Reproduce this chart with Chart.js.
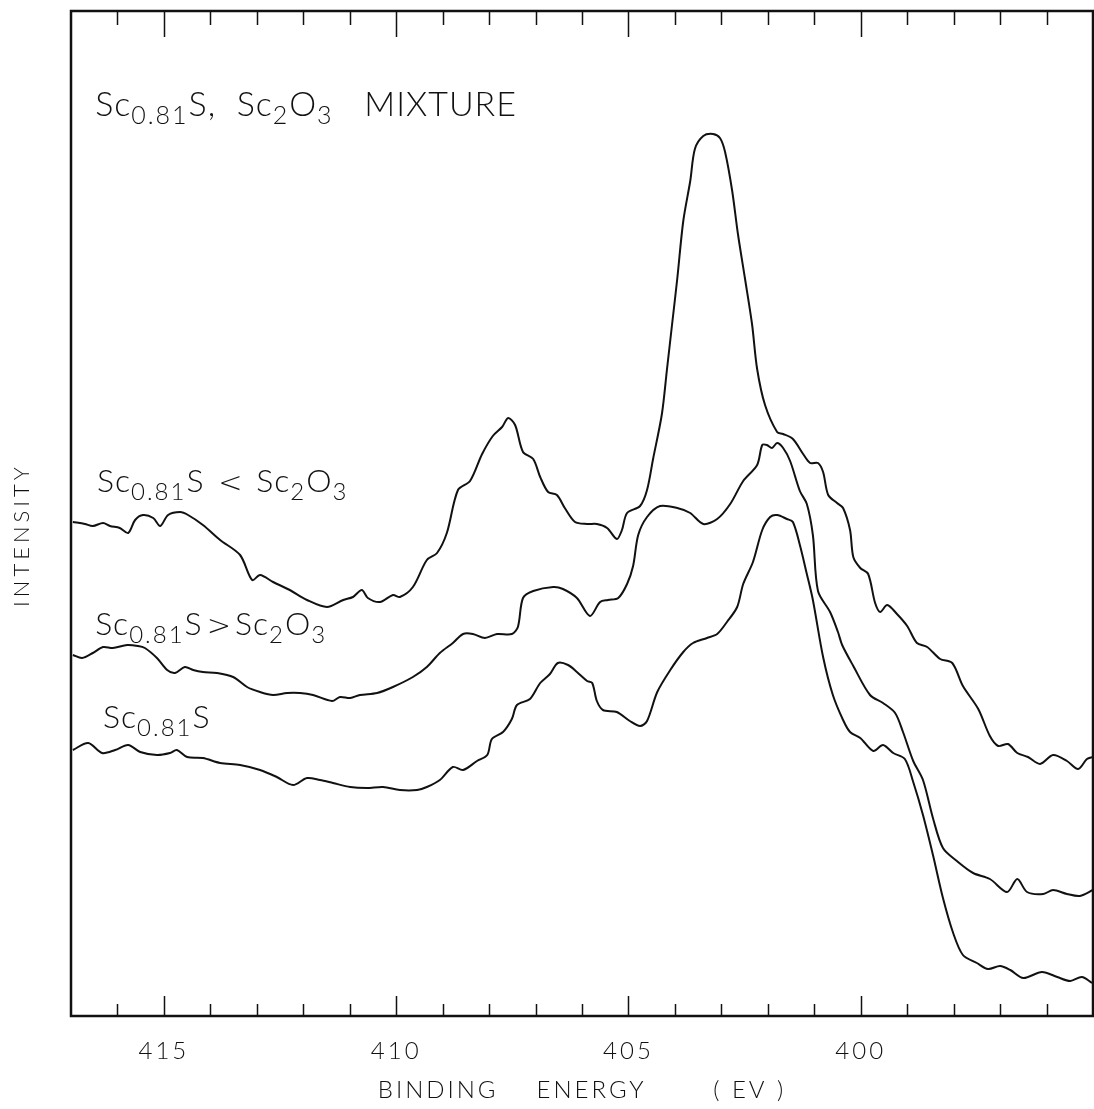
<!DOCTYPE html>
<html><head><meta charset="utf-8">
<script src="https://cdn.jsdelivr.net/npm/chart.js@4.4.1/dist/chart.umd.min.js"></script>
<style>html,body{margin:0;padding:0;background:#fff}</style>
</head><body>
<canvas id="c" width="1094" height="1109"></canvas>
<script>
// ---- Data (binding energy in eV, intensity in arbitrary units) ----
const seriesNames = ['Sc0.81S < Sc2O3', 'Sc0.81S > Sc2O3', 'Sc0.81S'];

const energyOxideRich = [416.96,416.70,416.53,416.31,416.16,415.95,415.77,415.62,415.45,415.23,
415.08,414.91,414.65,414.48,414.16,413.79,413.36,413.10,412.93,412.65,
412.29,411.92,411.49,411.14,410.93,410.74,410.61,410.35,410.07,409.92,
409.64,409.34,409.12,408.91,408.67,408.41,408.15,407.92,407.72,407.59,
407.44,407.27,407.05,406.90,406.73,406.54,406.37,406.15,405.89,405.68,
405.46,405.25,405.14,405.03,404.75,404.60,404.47,404.28,404.17,404.06,
403.95,403.82,403.67,403.57,403.39,403.18,403.03,402.92,402.77,402.64,
402.49,402.34,402.23,402.06,401.80,401.67,401.46,401.24,401.09,400.92,
400.81,400.70,400.51,400.38,400.23,400.16,400.01,399.84,399.69,399.58,
399.43,399.22,399.00,398.79,398.57,398.29,398.03,397.80,397.47,397.22,
397.04,396.83,396.63,396.40,396.14,395.86,395.56,395.32,395.13,395.00];
const intensityOxideRich = [49.4,49.2,49.0,49.3,49.0,48.8,48.3,49.6,50.1,49.8,
49.0,50.1,50.4,50.1,49.1,47.6,46.1,43.6,44.1,43.4,
42.6,41.6,40.9,41.6,41.9,42.6,41.8,41.4,42.1,41.9,
42.9,45.6,46.3,48.3,52.6,53.5,56.2,58.0,58.9,59.8,
59.1,56.4,55.7,53.9,52.4,52.1,50.8,49.4,49.2,49.2,
48.8,47.7,48.6,50.3,51.0,52.6,55.7,60.2,64.7,69.2,
73.7,79.5,83.5,86.7,88.0,88.2,87.8,86.4,82.6,78.1,
73.7,69.2,64.7,61.1,58.4,58.2,57.7,56.2,55.3,55.3,
54.4,52.1,51.3,50.8,48.6,45.9,44.8,44.2,41.3,40.4,
41.1,40.2,39.0,37.3,36.9,35.7,35.3,33.0,30.7,28.0,
27.0,27.2,26.3,25.9,25.2,26.1,25.5,24.7,25.7,25.9];

const energySulfideRich = [416.96,416.76,416.53,416.31,416.10,415.79,415.56,415.41,415.15,414.93,
414.76,414.55,414.37,414.16,413.86,413.51,413.21,412.93,412.65,412.35,
412.07,411.79,411.38,411.21,410.99,410.78,410.41,410.07,409.64,409.34,
409.06,408.78,408.56,408.35,408.09,407.83,407.51,407.38,407.27,407.05,
406.62,406.41,406.11,405.83,405.61,405.44,405.22,405.03,404.90,404.79,
404.60,404.32,403.95,403.67,403.39,403.09,402.81,402.53,402.23,402.12,
402.02,401.91,401.80,401.67,401.52,401.31,401.16,401.03,400.92,400.66,
400.49,400.40,400.16,399.80,399.52,399.26,399.09,398.87,398.66,398.44,
398.23,397.93,397.58,397.22,396.85,396.63,396.42,396.07,395.86,395.56,
395.28,395.00];
const intensitySulfideRich = [36.1,35.8,36.3,36.9,36.8,37.1,37.0,36.8,35.8,34.6,
34.3,34.9,34.6,34.4,34.3,33.9,32.9,32.4,32.1,32.3,
32.3,32.1,31.5,31.9,31.8,32.1,32.3,32.9,33.9,34.9,
36.3,37.3,38.2,38.2,37.8,38.2,38.2,38.9,41.8,42.5,
42.9,42.7,41.8,40.0,41.4,41.6,41.8,43.2,45.0,48.1,
49.9,51.0,50.8,50.3,49.2,49.7,51.2,53.5,55.1,57.1,
57.1,56.8,57.3,56.8,55.5,52.5,51.2,48.1,42.5,40.4,
38.4,37.1,35.0,32.1,31.3,30.3,28.4,25.5,23.6,19.7,
16.8,15.5,14.3,13.7,12.4,13.7,12.4,12.2,12.6,12.2,
12.0,12.6];

const energyPure = [416.96,416.63,416.33,416.05,415.77,415.51,415.15,414.87,414.72,414.50,
414.16,413.79,413.36,412.93,412.57,412.22,411.92,411.64,411.36,410.99,
410.63,410.28,409.92,409.55,409.34,409.06,408.78,408.56,408.26,408.04,
407.94,407.70,407.51,407.40,407.12,406.90,406.69,406.52,406.30,406.11,
405.89,405.78,405.68,405.55,405.25,404.97,404.75,404.60,404.38,404.10,
403.82,403.61,403.31,403.09,402.88,402.66,402.53,402.32,402.12,401.95,
401.80,401.59,401.46,401.31,401.16,401.03,400.81,400.60,400.38,400.23,
400.01,399.73,399.52,399.30,399.05,398.87,398.66,398.44,398.23,398.01,
397.80,397.50,397.26,397.00,396.78,396.50,396.10,395.77,395.49,395.24,
395.02];
const intensityPure = [26.6,27.3,26.3,26.6,27.1,26.4,26.1,26.3,26.6,25.9,
25.8,25.3,25.1,24.6,23.9,23.1,23.8,23.6,23.3,22.9,
22.8,22.9,22.6,22.6,22.9,23.6,24.9,24.6,25.5,26.1,
27.7,28.4,29.7,31.1,31.7,33.3,34.2,35.3,35.1,34.4,
33.5,33.3,31.5,30.6,30.4,29.5,29.0,29.5,32.4,34.6,
36.4,37.3,37.8,38.2,39.4,40.9,43.2,45.4,48.6,49.9,
50.1,49.7,49.4,47.1,44.2,41.6,35.9,32.1,29.6,28.4,
27.8,26.5,27.1,26.3,25.7,23.4,20.1,16.0,11.8,8.3,
6.1,5.3,4.7,5.0,4.6,3.8,4.4,3.9,3.5,3.9,
3.3];

const majorTickValues = [415, 410, 405, 400];
const minorTickValues = [416,414,413,412,411,409,408,407,406,404,403,402,401,399,398,397,396];
const energyMin = 395, energyMax = 417;
const intensityMin = 0, intensityMax = 100.5;

// ---- styles / label placement (kept apart from the data) ----
const FONT = 'Lato, "DejaVu Sans", sans-serif';
const SYMFONT = '"DejaVu Sans", sans-serif';
const ink = '#111';
// part kinds: 0 = normal, 1 = subscript, 2 = relation symbol
const labelDefs = [
  {e: 416.48, v: 90.0, size: 34, parts: [['Sc',0],['0.81',1],['S,  ',0],['Sc',0],['2',1],['O',0],['3',1],['   MIXTURE',0]]},
  {e: 416.44, v: 52.4, size: 32, parts: [['Sc',0],['0.81',1],['S ',0],['<',2],[' Sc',0],['2',1],['O',0],['3',1]]},
  {e: 416.48, v: 38.1, size: 32, parts: [['Sc',0],['0.81',1],['S',0],['>',2],['Sc',0],['2',1],['O',0],['3',1]]},
  {e: 416.31, v: 28.8, size: 32, parts: [['Sc',0],['0.81',1],['S',0]]}
];

function toPoints(xs, ys){ return xs.map((x,i)=>({x:x, y:ys[i]})); }
function lineDs(label, xs, ys){
  return {label, data: toPoints(xs, ys), borderColor: ink, borderWidth: 2,
    pointRadius: 0, tension: 0.3, fill: false};
}

const spacingPlugin = {
  id: 'spacing',
  beforeDraw(chart){ chart.ctx.letterSpacing = '3px'; },
  afterDraw(chart){ chart.ctx.letterSpacing = '0px'; }
};

const framePlugin = {
  id: 'frame',
  afterDatasetsDraw(chart){
    const {ctx, chartArea: a} = chart;
    const xs = chart.scales.x;
    ctx.save();
    ctx.strokeStyle = ink;
    ctx.lineWidth = 2.5;
    ctx.strokeRect(a.left, a.top, a.right - a.left, a.bottom - a.top);
    ctx.lineWidth = 1.5;
    ctx.beginPath();
    const draw = (vals, lb, lt) => vals.forEach(v => {
      const px = Math.round(xs.getPixelForValue(v)) + 0.5;
      ctx.moveTo(px, a.bottom); ctx.lineTo(px, a.bottom - lb);
      ctx.moveTo(px, a.top); ctx.lineTo(px, a.top + lt);
    });
    draw(majorTickValues, 20, 26);
    draw(minorTickValues, 12, 14);
    ctx.stroke();
    ctx.restore();
  }
};

function drawChem(ctx, parts, x, y, size){
  let cx = x;
  for (const [t, kind] of parts){
    let fs = size, dy = 0, fam = FONT, ls = '1px';
    if (kind === 1){ fs = Math.round(size * 0.74); dy = size * 0.24; ls = '2px'; }
    if (kind === 2){ fs = Math.round(size * 0.9); fam = SYMFONT; ls = '4px'; }
    ctx.letterSpacing = ls;
    ctx.font = '300 ' + fs + 'px ' + fam;
    if (kind === 2) cx += 4;
    ctx.fillText(t, cx, y + dy);
    cx += ctx.measureText(t).width;
  }
}

const textPlugin = {
  id: 'texts',
  afterDraw(chart){
    const {ctx} = chart;
    const xs = chart.scales.x, ys = chart.scales.y;
    ctx.save();
    ctx.fillStyle = ink;
    ctx.textBaseline = 'alphabetic';
    ctx.textAlign = 'left';
    labelDefs.forEach(d => drawChem(ctx, d.parts, xs.getPixelForValue(d.e), ys.getPixelForValue(d.v), d.size));
    // y-axis caption
    ctx.letterSpacing = '4px';
    ctx.font = '300 22px ' + FONT;
    ctx.textAlign = 'center';
    ctx.textBaseline = 'middle';
    ctx.translate(22, 535);
    ctx.rotate(-Math.PI / 2);
    ctx.fillText('INTENSITY', 0, 0);
    ctx.restore();
  }
};

new Chart(document.getElementById('c'), {
  type: 'line',
  data: { datasets: [
    lineDs(seriesNames[0], energyOxideRich, intensityOxideRich),
    lineDs(seriesNames[1], energySulfideRich, intensitySulfideRich),
    lineDs(seriesNames[2], energyPure, intensityPure)
  ]},
  options: {
    responsive: false,
    animation: false,
    devicePixelRatio: 1,
    layout: { padding: { left: 71, right: 1, top: 11, bottom: 0 } },
    plugins: { legend: { display: false }, tooltip: { enabled: false } },
    scales: {
      x: {
        type: 'linear', reverse: true, min: energyMin, max: energyMax,
        grid: { display: false, drawTicks: false },
        border: { display: false },
        afterBuildTicks: s => { s.ticks = majorTickValues.map(v => ({value: v})); },
        afterFit: s => { s.height = 93; },
        ticks: { color: ink, padding: 21, autoSkip: false, maxRotation: 0,
                 font: { family: FONT, size: 24, weight: 300 } },
        title: { display: true, text: 'BINDING    ENERGY       ( EV )', color: ink,
                 font: { family: FONT, size: 24, weight: 300 }, padding: { top: 0, bottom: 4 } }
      },
      y: { display: false, min: intensityMin, max: intensityMax }
    }
  },
  plugins: [spacingPlugin, framePlugin, textPlugin]
});
</script>
</body></html>
